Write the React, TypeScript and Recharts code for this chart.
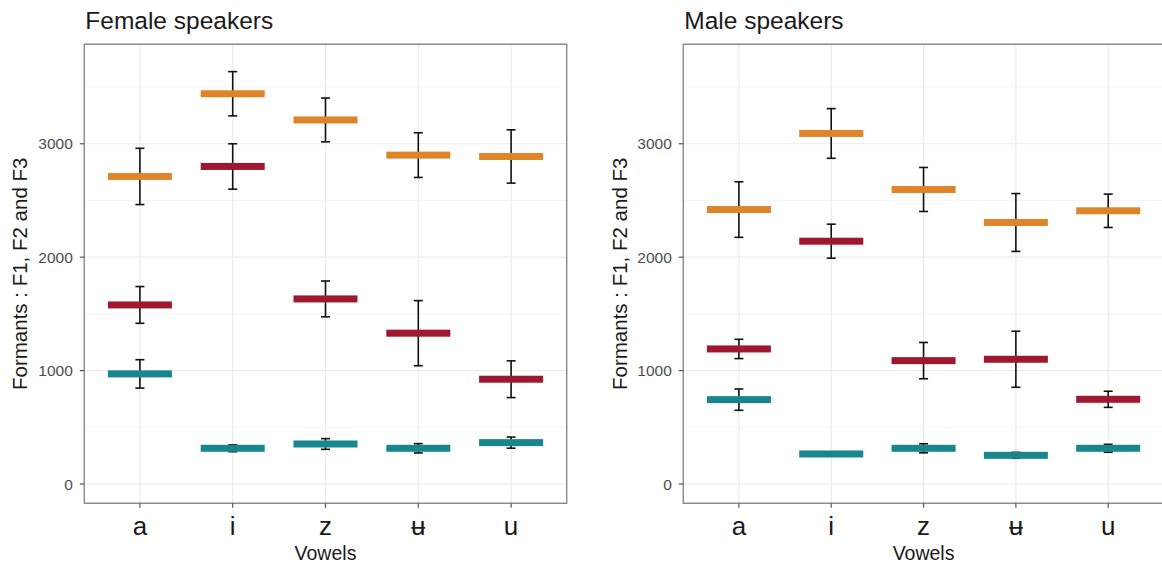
import React from "react";
import {
  ComposedChart,
  Scatter,
  ErrorBar,
  XAxis,
  YAxis,
  CartesianGrid,
  ReferenceArea,
  Label,
} from "recharts";

const vowels = ["a", "i", "z", "ʉ", "u"];

// female speakers: mean and sd per vowel
const femaleF1 = [971, 315, 353, 315, 365];
const femaleF1sd = [125, 30, 47, 41, 49];
const femaleF2 = [1579, 2800, 1632, 1330, 924];
const femaleF2sd = [162, 200, 158, 287, 162];
const femaleF3 = [2712, 3441, 3210, 2900, 2888];
const femaleF3sd = [248, 195, 193, 197, 235];

// male speakers
const maleF1 = [744, 265, 315, 253, 315];
const maleF1sd = [94, 18, 40, 26, 35];
const maleF2 = [1191, 2141, 1088, 1100, 747];
const maleF2sd = [85, 150, 160, 247, 71];
const maleF3 = [2420, 3091, 2597, 2306, 2409];
const maleF3sd = [245, 219, 194, 255, 147];

const majorTicks = [0, 1000, 2000, 3000];
const minorTicks = [500, 1500, 2500, 3500];

const FONT = '"Liberation Sans", Arial, Helvetica, sans-serif';
const COLORS = { f1: "#17878d", f2: "#a0182f", f3: "#df8529" };
const Y_DOMAIN: [number, number] = [-170, 3877];
const FRAME_X: [number, number] = [0, vowels.length - 1];

function buildRows(f1: number[], f1sd: number[], f2: number[], f2sd: number[], f3: number[], f3sd: number[]) {
  return vowels.map((v, i) => ({
    vowel: v,
    f1: f1[i],
    f1sd: f1sd[i],
    f2: f2[i],
    f2sd: f2sd[i],
    f3: f3[i],
    f3sd: f3sd[i],
  }));
}

const femaleRows = buildRows(femaleF1, femaleF1sd, femaleF2, femaleF2sd, femaleF3, femaleF3sd);
const maleRows = buildRows(maleF1, maleF1sd, maleF2, maleF2sd, maleF3, maleF3sd);

function crossbar(color: string) {
  return (props: any) => {
    const { cx, cy } = props;
    if (cx == null || cy == null) return <g />;
    return <rect x={cx - 32} y={cy - 3.5} width={64} height={7} fill={color} />;
  };
}

const noShape = () => <g />;

interface PanelProps {
  title: string;
  rows: any[];
  left: number;
  width: number;
  yAxisWidth: number;
  marginRight: number;
  labelOffset: number;
}

function Panel({ title, rows, left, width, yAxisWidth, marginRight, labelOffset }: PanelProps) {
  return (
    <div style={{ position: "absolute", left, top: 0, width, height: 565 }}>
      <div
        style={{
          position: "absolute",
          left: yAxisWidth + 1,
          top: 8.6,
          fontSize: 24.5,
          lineHeight: 1,
          color: "#1a1a1a",
          fontFamily: FONT,
          whiteSpace: "nowrap",
        }}
      >
        {title}
      </div>
      <ComposedChart
        width={width}
        height={565}
        data={rows}
        margin={{ top: 44.3, right: marginRight, bottom: 5, left: 0 }}
        style={{ fontFamily: FONT }}
      >
        <CartesianGrid
          horizontalValues={minorTicks}
          vertical={false}
          stroke="#f2f2f2"
          strokeWidth={0.8}
        />
        <CartesianGrid horizontalValues={majorTicks} stroke="#ebebeb" strokeWidth={1.2} />
        <XAxis
          dataKey="vowel"
          type="category"
          padding={{ left: 55.6, right: 55.6 }}
          axisLine={false}
          tickLine={{ stroke: "#555", strokeWidth: 1.2 }}
          tickSize={4.5}
          tickMargin={8.5}
          height={56.7}
          tick={{ fontSize: 26, fill: "#1a1a1a" }}
          interval={0}
        >
          <Label value="Vowels" position="insideBottom" offset={0} style={{ fontSize: 19.5, fill: "#1a1a1a" }} />
        </XAxis>
        <XAxis xAxisId="frame" type="number" domain={FRAME_X} allowDataOverflow hide />
        <YAxis
          type="number"
          domain={Y_DOMAIN}
          allowDataOverflow
          ticks={majorTicks}
          width={yAxisWidth}
          axisLine={false}
          tickLine={{ stroke: "#555", strokeWidth: 1.2 }}
          tickSize={4.5}
          tickMargin={7}
          tick={{ fontSize: 15.5, fill: "#4d4d4d" }}
        >
          <Label
            value="Formants : F1, F2 and F3"
            angle={-90}
            position="insideLeft"
            offset={labelOffset}
            style={{ fontSize: 20.5, fill: "#1a1a1a", textAnchor: "middle" }}
          />
        </YAxis>
        <Scatter dataKey="f3" shape={crossbar(COLORS.f3)} isAnimationActive={false} />
        <Scatter dataKey="f2" shape={crossbar(COLORS.f2)} isAnimationActive={false} />
        <Scatter dataKey="f1" shape={crossbar(COLORS.f1)} isAnimationActive={false} />
        <Scatter dataKey="f3" shape={noShape} isAnimationActive={false}>
          <ErrorBar dataKey="f3sd" direction="y" width={4.5} stroke="#111" strokeWidth={1.6} isAnimationActive={false} />
        </Scatter>
        <Scatter dataKey="f2" shape={noShape} isAnimationActive={false}>
          <ErrorBar dataKey="f2sd" direction="y" width={4.5} stroke="#111" strokeWidth={1.6} isAnimationActive={false} />
        </Scatter>
        <Scatter dataKey="f1" shape={noShape} isAnimationActive={false}>
          <ErrorBar dataKey="f1sd" direction="y" width={4.5} stroke="#111" strokeWidth={1.6} isAnimationActive={false} />
        </Scatter>
        <ReferenceArea
          xAxisId="frame"
          x1={FRAME_X[0]}
          x2={FRAME_X[1]}
          y1={Y_DOMAIN[0]}
          y2={Y_DOMAIN[1]}
          fill="none"
          fillOpacity={0}
          stroke="#8c8c8c"
          strokeWidth={1.4}
        />
      </ComposedChart>
    </div>
  );
}

export default function App() {
  return (
    <div
      style={{
        position: "fixed",
        left: 0,
        top: 0,
        width: 1162,
        height: 565,
        overflow: "hidden",
        background: "#fff",
      }}
    >
      <Panel
        title="Female speakers"
        rows={femaleRows}
        left={0}
        width={580}
        yAxisWidth={84.3}
        marginRight={13.3}
        labelOffset={20}
      />
      <Panel
        title="Male speakers"
        rows={maleRows}
        left={580}
        width={600}
        yAxisWidth={103.3}
        marginRight={16.2}
        labelOffset={39.5}
      />
    </div>
  );
}
